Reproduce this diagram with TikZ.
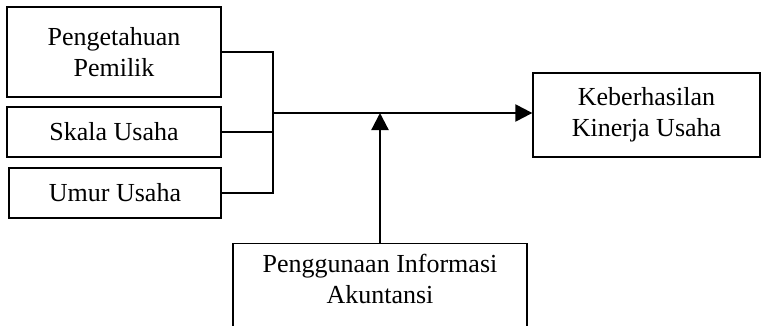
\documentclass[tikz,border=0pt]{standalone}
\usepackage{fontspec}
\setmainfont{Liberation Serif}
\usetikzlibrary{arrows.meta}
\begin{document}
\begin{tikzpicture}[x=1pt,y=-1pt,
  box/.style={draw,line width=1.3pt,inner sep=0pt,align=center,
    font=\fontsize{26}{31}\selectfont},
  txt/.style={inner sep=0pt,align=center,font=\fontsize{26}{31}\selectfont},
  conn/.style={line width=1.4pt},
  mainline/.style={line width=2.2pt,-{Triangle[length=17pt,width=17pt]}}]
\clip (0,0) rectangle (762,326);
\node[box,minimum width=214pt,minimum height=90pt] (b1) at (114,52) {Pengetahuan\\Pemilik};
\node[box,minimum width=214pt,minimum height=50pt] (b2) at (114,132) {Skala Usaha};
\node[box,minimum width=212pt,minimum height=50pt] (b3) at (115,193) {Umur Usaha};
\node[box,minimum width=227pt,minimum height=84pt] (kb) at (646.5,115) {Keberhasilan\\Kinerja Usaha};
\node[box,minimum width=294pt,minimum height=100pt,anchor=north] (pia) at (380,243) {};
\node[txt] (piat) at (380,279) {Penggunaan Informasi\\Akuntansi};
\coordinate (j) at (273,113);
\coordinate (jb) at (273,193);
\draw[conn] (b1.east) -| (jb) -- (b3.east);
\draw[conn] (b2.east) -- (b2.east -| j);
\draw[mainline] (j) -- (j -| kb.west);
\draw[mainline] (pia.north) -- (pia.north |- j);
\end{tikzpicture}
\end{document}
